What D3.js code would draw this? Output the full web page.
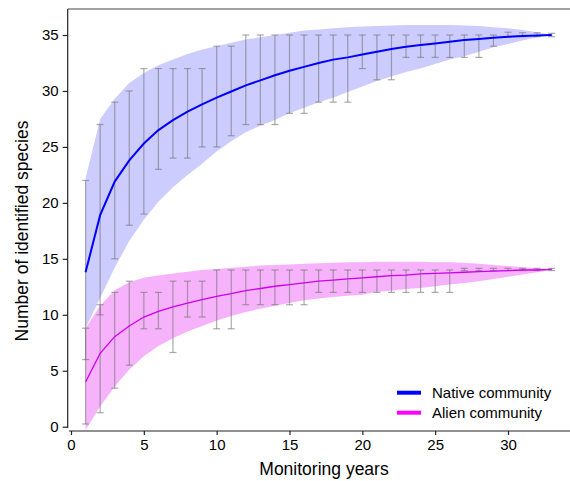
<!DOCTYPE html>
<html><head><meta charset="utf-8">
<script src="https://cdn.jsdelivr.net/npm/d3@7"></script>
<style>
body{margin:0;background:#fff;}
svg{display:block;font-family:"Liberation Sans",Arial,sans-serif;}
</style></head>
<body><svg id="c" width="570" height="481"></svg>
<script>
const years = d3.range(1, 34);
const nativeMean = [13.8,18.9,21.9,23.8,25.3,26.5,27.4,28.15,28.8,29.4,29.95,30.5,30.95,31.4,31.8,32.15,32.5,32.8,33.0,33.25,33.5,33.75,33.95,34.1,34.25,34.4,34.55,34.65,34.75,34.85,34.9,34.95,35.0];
const nativeBandHigh = [22.2,27.5,29.3,30.7,31.6,32.3,32.8,33.3,33.7,34.0,34.3,34.6,34.8,35.0,35.2,35.4,35.5,35.6,35.7,35.75,35.8,35.85,35.9,35.9,35.9,35.9,35.85,35.8,35.7,35.6,35.45,35.25,35.0];
const nativeBandLow = [8.8,11.5,14.2,16.6,18.5,20.1,21.4,22.5,23.5,24.6,25.5,26.3,26.9,27.4,28.0,28.5,29.0,29.4,29.9,30.4,30.9,31.3,31.7,32.0,32.4,32.8,33.1,33.5,33.9,34.2,34.5,34.8,35.0];
const nativeErrLow = [6,10,15,18,19,23,24,24,25,25,26,27,27,27,28,28,29,29,29,32,31,31,33,33,33,33,33,33,34,34.8,34.85,34.85,34.85];
const nativeErrHigh = [22,27,29,30,32,32,32,32,32,34,34,35,35,35,35,35,35,35,35,35,35,35,35,35,35,35,35,35,35,35.25,35.2,35.2,35.15];
const alienMean = [4.0,6.55,8.05,9.0,9.8,10.3,10.7,11.05,11.35,11.65,11.9,12.15,12.35,12.55,12.7,12.85,13.0,13.1,13.2,13.3,13.4,13.5,13.55,13.65,13.7,13.75,13.8,13.85,13.9,13.95,14.0,14.0,14.05];
const alienBandHigh = [8.8,10.8,12.2,12.9,13.3,13.5,13.7,13.85,14.0,14.1,14.2,14.3,14.4,14.45,14.5,14.55,14.6,14.65,14.7,14.7,14.75,14.75,14.75,14.75,14.7,14.7,14.65,14.55,14.45,14.35,14.25,14.15,14.05];
const alienBandLow = [-0.3,1.8,3.6,5.1,6.3,7.2,7.9,8.5,9.0,9.5,9.9,10.25,10.55,10.8,11.05,11.3,11.45,11.6,11.7,11.8,12.05,12.15,12.3,12.4,12.55,12.7,12.85,13.0,13.2,13.4,13.6,13.8,14.0];
const alienErrLow = [0.24,1.25,3.44,5.5,8.75,8.75,6.63,9.8,9.8,8.75,8.75,10.9,10.9,10.9,10.9,10.9,12,12,12,12,12,12,12,12,12,12,13.95,13.95,13.95,13.95,13.95,13.95,13.95];
const alienErrHigh = [8.8,10.9,12,13,12,12,13,13,13,14,14,14,14,14,14,14,14,14,14,14,14,14,14,14,14,14,14.15,14.15,14.15,14.15,14.15,14.15,14.15];
const xTicks = [0,5,10,15,20,25,30];
const yTicks = [0,5,10,15,20,25,30,35];
const seriesNames = ["Native community","Alien community"];

const svg = d3.select("#c");
const x = d3.scaleLinear().domain([0, 30]).range([71, 508]);
const y = d3.scaleLinear().domain([0, 35]).range([426.7, 35]);

function band(lo, hi, fill){
  const a = d3.area().x((d,i)=>x(years[i])).y0((d,i)=>y(lo[i])).y1((d,i)=>y(hi[i]));
  svg.append("path").datum(years).attr("d", a).attr("fill", fill);
}
band(nativeBandLow, nativeBandHigh, "rgba(0,0,255,0.2)");
band(alienBandLow, alienBandHigh, "rgba(225,0,240,0.3)");

function errs(lo, hi){
  const g = svg.append("g").attr("stroke","rgba(115,115,115,0.6)").attr("stroke-width",1.2).attr("fill","none");
  years.forEach((yr,i)=>{
    const cx = x(yr);
    g.append("line").attr("x1",cx).attr("x2",cx).attr("y1",y(lo[i])).attr("y2",y(hi[i]));
    g.append("line").attr("x1",cx-3.5).attr("x2",cx+3.5).attr("y1",y(lo[i])).attr("y2",y(lo[i]));
    g.append("line").attr("x1",cx-3.5).attr("x2",cx+3.5).attr("y1",y(hi[i])).attr("y2",y(hi[i]));
  });
}
errs(nativeErrLow, nativeErrHigh);
errs(alienErrLow, alienErrHigh);

const line = arr => d3.line().x((d,i)=>x(years[i])).y((d,i)=>y(arr[i]))(years);
svg.append("path").attr("d", line(nativeMean)).attr("fill","none").attr("stroke","#0000ff").attr("stroke-width",2);
svg.append("path").attr("d", line(alienMean)).attr("fill","none").attr("stroke","#cc00ee").attr("stroke-width",1.3);

// axes
const yAxis = svg.append("g").attr("transform","translate(67.7,0)")
  .call(d3.axisLeft(y).tickValues(yTicks).tickSize(5).tickPadding(4).tickSizeOuter(0));
yAxis.select(".domain").attr("d","M0,9V428");
const xAxis = svg.append("g").attr("transform","translate(0,431)")
  .call(d3.axisBottom(x).tickValues(xTicks).tickSize(4).tickPadding(4).tickSizeOuter(0));
xAxis.select(".domain").attr("d","M69,0H570");
[yAxis, xAxis].forEach(g=>{
  g.selectAll("text").attr("font-size",15).attr("fill","#000").attr("font-family","Liberation Sans, Arial, sans-serif");
  g.selectAll("line,path").attr("stroke","#222").attr("stroke-width",1.2);
});
svg.append("line").attr("x1",67.7).attr("x2",570).attr("y1",9).attr("y2",9).attr("stroke","#444").attr("stroke-width",1.2);

svg.append("text").attr("x",324).attr("y",475).attr("text-anchor","middle").attr("font-size",17.5).text("Monitoring years");
svg.append("text").attr("transform","translate(28,231) rotate(-90)").attr("text-anchor","middle").attr("font-size",17.5).text("Number of identified species");

// legend
const legColors = ["#0000ff","#ff00ff"];
seriesNames.forEach((n,i)=>{
  const ly = 392.7 + i*20;
  svg.append("line").attr("x1",397).attr("x2",421).attr("y1",ly).attr("y2",ly).attr("stroke",legColors[i]).attr("stroke-width",4);
  svg.append("text").attr("x",432).attr("y",ly+5.3).attr("font-size",15).text(n);
});
</script></body></html>
